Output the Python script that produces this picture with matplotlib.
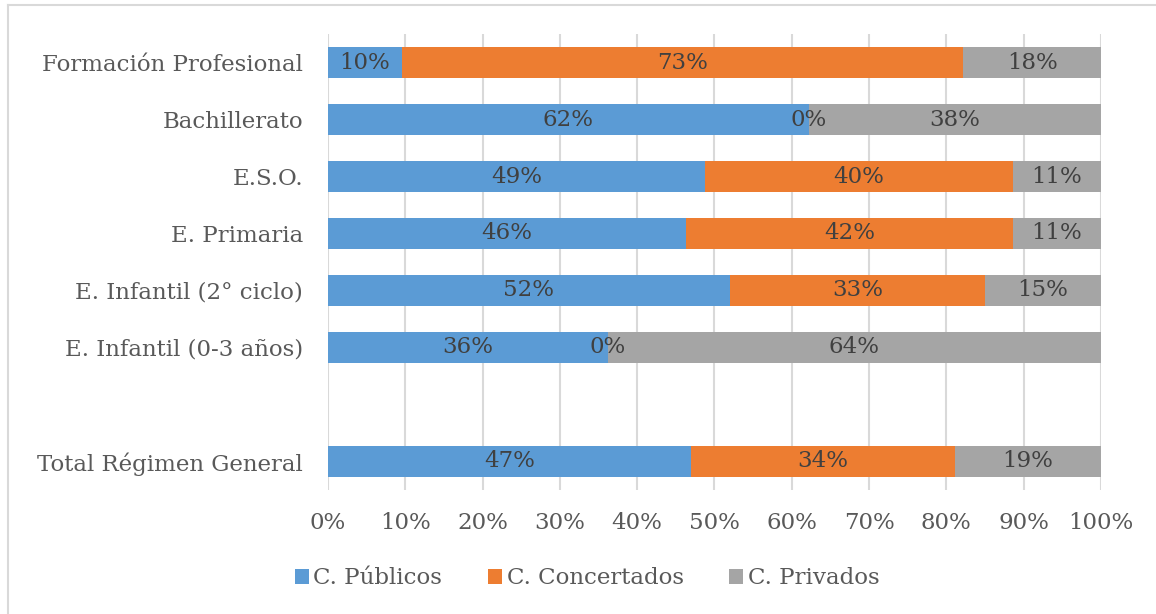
import matplotlib.pyplot as plt
from matplotlib.lines import Line2D
import numpy as np

categories = ["Total Régimen General", "", "E. Infantil (0-3 años)", "E. Infantil (2° ciclo)",
              "E. Primaria", "E.S.O.", "Bachillerato", "Formación Profesional"]
publicos = [47.0, np.nan, 36.2, 52.0, 46.3, 48.8, 62.2, 9.6]
concertados = [34.1, np.nan, 0.0, 33.0, 42.3, 39.8, 0.0, 72.6]
privados = [18.9, np.nan, 63.8, 15.0, 11.4, 11.4, 37.8, 17.8]
series_names = ["C. Públicos", "C. Concertados", "C. Privados"]
colors = ["#5B9BD5", "#ED7D31", "#A5A5A5"]

plt.rcParams['font.family'] = ['DejaVu Serif']
text_color = "#595959"
fs = 16.5

fig = plt.figure(figsize=(11.56, 6.14), dpi=100)
ax = fig.add_axes([0.2837, 0.202, 0.6687, 0.7426])

y = np.arange(len(categories))
left = np.zeros(len(categories))
for vals, name, col in zip([publicos, concertados, privados], series_names, colors):
    v = np.array(vals, dtype=float)
    ax.barh(y, np.nan_to_num(v), left=left, height=0.54, color=col, label=name, zorder=3)
    for yi, (l, w) in enumerate(zip(left, v)):
        if np.isnan(w):
            continue
        ax.text(l + w / 2, yi, f"{w:.0f}%", ha="center", va="center",
                fontsize=fs, color="#404040", zorder=4)
    left = left + np.nan_to_num(v)

ax.set_xlim(0, 100)
ax.set_ylim(-0.5, len(categories) - 0.5)
ax.set_xticks(np.arange(0, 101, 10))
ax.set_xticklabels([f"{t}%" for t in range(0, 101, 10)])
ax.set_yticks(y)
ax.set_yticklabels(categories)
ax.tick_params(axis="both", length=0, labelsize=fs, colors=text_color)
ax.tick_params(axis="x", pad=16)
ax.tick_params(axis="y", pad=18)
ax.grid(axis="x", color="#D9D9D9", linewidth=1.5, zorder=0)
for s in ax.spines.values():
    s.set_visible(False)

fig.legend(loc="center", bbox_to_anchor=(0.508, 0.058), ncol=3, frameon=False,
           fontsize=fs, handlelength=0.6, handleheight=0.6, handletextpad=0.2,
           columnspacing=2.0, labelcolor=text_color)

fig.add_artist(Line2D([8 / 1156, 1], [1 - 5 / 614, 1 - 5 / 614], color="#D9D9D9", lw=1.5))
fig.add_artist(Line2D([8 / 1156, 8 / 1156], [0, 1 - 5 / 614], color="#D9D9D9", lw=1.5))

fig.savefig("out.png", dpi=100)
